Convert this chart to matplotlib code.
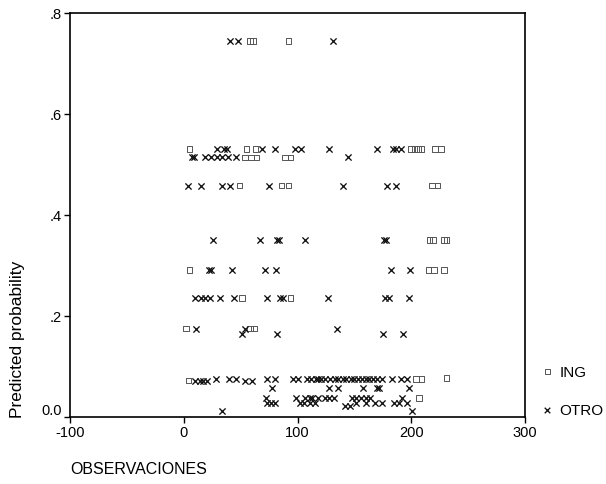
import matplotlib
matplotlib.use('Agg')
from matplotlib import pyplot as plt

# ----- DATA: observation number vs predicted probability ----- #
ing_obs = [58, 61, 92,
           5, 55, 63, 200, 203, 206, 209, 221, 226,
           54, 59, 64, 89, 94,
           49, 86, 92, 218, 223,
           216, 219, 229, 231,
           5, 215, 220, 229,
           51, 94,
           2, 58, 62,
           4, 204, 209, 231, 207]
ing_prob = [0.745, 0.745, 0.745,
            0.531, 0.531, 0.531, 0.531, 0.531, 0.531, 0.531, 0.531, 0.531,
            0.514, 0.514, 0.514, 0.514, 0.514,
            0.458, 0.458, 0.458, 0.458, 0.458,
            0.350, 0.350, 0.350, 0.350,
            0.291, 0.291, 0.291, 0.291,
            0.236, 0.236,
            0.175, 0.175, 0.175,
            0.072, 0.075, 0.075, 0.077, 0.038]

otro_obs = [41, 48, 131,
            29, 35, 38, 69, 80, 98, 103, 128, 170, 184, 187, 191,
            7, 9, 19, 24, 29, 34, 39, 46, 144,
            4, 15, 34, 41, 75, 140, 179, 187,
            26, 67, 82, 84, 107, 176, 178,
            22, 24, 42, 71, 81, 182, 199,
            10, 15, 19, 23, 32, 44, 73, 85, 87, 127, 177, 180, 198,
            11, 54, 135,
            51, 82, 175, 193,
            10, 14, 17, 20, 54, 60,
            28, 40, 46, 73, 80, 96, 100, 108, 112, 116, 118, 121, 124, 129, 133,
            136, 140, 143, 147, 150, 153, 157, 160, 163, 166, 170, 174, 183, 191, 196,
            78, 128, 136, 158, 170, 172, 198,
            72, 99, 107, 111, 113, 118, 124, 128, 132, 148, 151, 156, 160, 164, 192,
            73, 77, 80, 102, 106, 111, 115, 151, 160, 168, 174, 185, 189, 196,
            142, 146,
            34, 201]
otro_prob = ([0.745] * 3 + [0.531] * 12 + [0.514] * 9 + [0.458] * 8 + [0.350] * 7
             + [0.291] * 7 + [0.236] * 13 + [0.175] * 3 + [0.165] * 4 + [0.072] * 6
             + [0.075] * 30 + [0.058] * 7 + [0.038] * 15 + [0.028] * 14
             + [0.021] * 2 + [0.012] * 2)

x_ticks = [-100, 0, 100, 200, 300]
y_ticks = [0.0, 0.2, 0.4, 0.6, 0.8]
y_tick_labels = ['0.0', '.2', '.4', '.6', '.8']

plt.rcParams['font.family'] = ['Liberation Sans', 'DejaVu Sans']
plt.rcParams['axes.unicode_minus'] = False

# ----- PLOT ----- #
fig = plt.figure(figsize=(6.06, 4.85), dpi=100)
ax = fig.add_axes([70 / 606, 1 - 418 / 485, 455 / 606, 404 / 485])

ax.scatter(ing_obs, ing_prob, marker='s', s=16, facecolors='none',
           edgecolors='#555555', linewidths=0.7, label='ING')
ax.scatter(otro_obs, otro_prob, marker='x', s=20, color='#111111',
           linewidths=0.95, label='OTRO')

ax.set_xlim(-100, 300)
ax.set_ylim(0, 0.8)
ax.set_xticks(x_ticks)
ax.set_yticks(y_ticks)
ax.set_yticklabels(y_tick_labels)
ax.tick_params(direction='out', length=4, width=1, labelsize=10.5, pad=2)
ax.get_yticklabels()[0].set_va('bottom')
for sp in ax.spines.values():
    sp.set_linewidth(1.2)

fig.text(18 / 606, 1 - 418 / 485, 'Predicted probability', rotation=90,
         ha='center', va='bottom', fontsize=12.5)
fig.text(70 / 606, 1 - 470 / 485, 'OBSERVACIONES', ha='left', va='center',
         fontsize=11.5)

ax.legend(loc='center left', bbox_to_anchor=(541 / 606, 1 - 392 / 485),
          bbox_transform=fig.transFigure, frameon=False, fontsize=11,
          handletextpad=0.4, labelspacing=1.6, handlelength=0.8,
          borderpad=0, borderaxespad=0, markerscale=0.9)

plt.savefig('out.png', dpi=100)
